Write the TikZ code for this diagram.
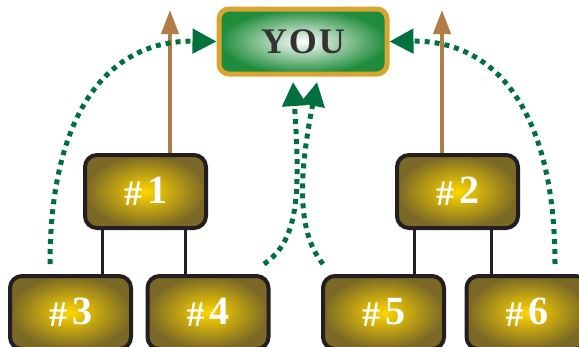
\documentclass[tikz,border=0pt]{standalone}
\usepackage{fontspec}
\setmainfont{Liberation Serif}
\usetikzlibrary{arrows.meta}

\definecolor{boxedge}{RGB}{35,31,32}
\definecolor{boxgold}{RGB}{255,214,0}
\definecolor{boxolive}{RGB}{122,104,38}
\definecolor{youedge}{RGB}{217,165,49}
\definecolor{yougreen}{RGB}{30,140,58}
\definecolor{dotgreen}{RGB}{0,112,60}
\definecolor{upbrown}{RGB}{176,125,69}

\tikzset{
  member/.style={draw=boxedge, line width=4pt, rounded corners=12pt,
    inner color=boxgold, outer color=boxolive,
    minimum width=121pt, minimum height=73pt, text=white,
    font=\bfseries},
  youbox/.style={draw=youedge, line width=5pt, rounded corners=10pt,
    inner color=white, outer color=yougreen,
    minimum width=168pt, minimum height=65pt},
  tieline/.style={draw=boxedge, line width=3pt},
  riseline/.style={draw=upbrown, line width=4pt, -{Triangle[length=24pt,width=17pt]}},
  dotline/.style={draw=dotgreen, line width=5pt, dash pattern=on 5pt off 5pt,
    -{Triangle[length=24pt,width=24pt]}}
}
\newcommand{\num}[1]{\raisebox{-2pt}{\fontsize{36}{36}\selectfont\#}\kern5pt{\fontsize{40}{40}\selectfont #1}}

\begin{document}
\begin{tikzpicture}[x=1pt,y=1pt,yscale=-1]
\useasboundingbox (0,0) rectangle (579,346);
\clip (0,0) rectangle (579,346);

%Shape: you box
\node[youbox] (you) at (303,41.5) {\fontsize{36}{36}\selectfont\bfseries\color{black!80}Y\kern2pt O\kern2pt U};

%Shape: member boxes
\node[member] (m1) at (145.5,191.5) {\num{1}};
\node[member] (m2) at (457.5,191.5) {\num{2}};
\node[member] (m3) at (70.5,312.5) {\num{3}};
\node[member] (m4) at (208,312.5) {\num{4}};
\node[member] (m5) at (383.5,312.5) {\num{5}};
\node[member] (m6) at (527,312.5) {\num{6}};

%Straight Lines: ties
\draw[tieline] ([xshift=19pt]m1.south west) -- ([xshift=19pt]m1.south west |- m3.north);
\draw[tieline] ([xshift=-23pt]m1.south east) -- ([xshift=-23pt]m1.south east |- m4.north);
\draw[tieline] ([xshift=19pt]m2.south west) -- ([xshift=19pt]m2.south west |- m5.north);
\draw[tieline] ([xshift=-29pt]m2.south east) -- ([xshift=-29pt]m2.south east |- m6.north);

%Straight Lines: brown arrows
\coordinate (top1) at (170,10);
\coordinate (top2) at (442,10);
\draw[riseline] (m1.north -| top1) -- (top1);
\draw[riseline] (m2.north -| top2) -- (top2);

%Curves: dotted arrows
\coordinate (d3) at (50,264);
\coordinate (d4) at (264,264);
\coordinate (d5) at (323,264);
\coordinate (d6) at (555,264);
\coordinate (t4) at (293,82);
\coordinate (t5) at (317,82);
\draw[dotline] (d3) .. controls (50,110) and (110,40) .. (you.west);
\draw[dotline] (d6) .. controls (555,110) and (495,40) .. (you.east);
\draw[dotline] (d4) .. controls (300,240) and (300,190) .. (t4);
\draw[dotline] (d5) .. controls (295,230) and (300,170) .. (t5);

\end{tikzpicture}
\end{document}
